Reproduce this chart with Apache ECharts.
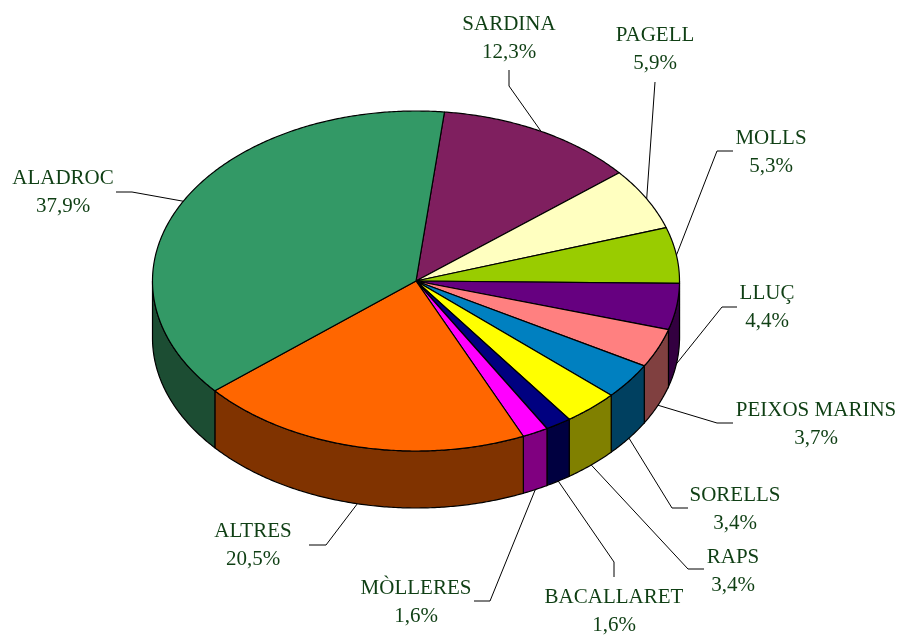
<!DOCTYPE html>
<html>
<head>
<meta charset="utf-8">
<title>Captures</title>
<script src="https://cdn.jsdelivr.net/npm/echarts@6/dist/echarts.min.js"></script>
<style>
    html, body { margin: 0; padding: 0; background: #fff; }
    #pieChart { width: 901px; height: 635px; }
</style>
</head>
<body>
<div id="pieChart"></div>
<script>
    // clockwise, starting just right of 12 o'clock
    const categories = ['SARDINA', 'PAGELL', 'MOLLS', 'LLUÇ', 'PEIXOS MARINS', 'SORELLS', 'RAPS', 'BACALLARET', 'MÒLLERES', 'ALTRES', 'ALADROC'];
    const shares = [12.3, 5.9, 5.3, 4.4, 3.7, 3.4, 3.4, 1.6, 1.6, 20.5, 37.9];

    const topColors = ['#7F1F5F', '#FFFFC0', '#99CC00', '#660080', '#FF8080', '#0080C0', '#FFFF00', '#000080', '#FF00FF', '#FF6600', '#339966'];
    const wallColors = ['#400F30', '#808060', '#4D6600', '#330040', '#804040', '#004060', '#808000', '#000040', '#800080', '#803300', '#1C4D33'];

    // label centre and the leader line points between label and pie
    const labelCenters = [[509, 38], [655, 49], [771, 152], [767, 307], [816, 424], [735, 509], [733, 571], [614, 611], [416, 602], [253, 545], [63, 192]];
    const leaderBends = [
        [[509, 70], [509, 86]],
        [[655, 82]],
        [[733, 151], [717, 151]],
        [[737, 307], [722, 307]],
        [[733, 423], [717, 423]],
        [[688, 508], [672, 508]],
        [[704, 569], [688, 569]],
        [[614, 577], [614, 562]],
        [[474, 601], [490, 601]],
        [[309, 545], [326, 545]],
        [[116, 192], [132, 192]]
    ];

    const cx = 416;
    const cy = 281;
    const rx = 263.5;
    const ry = 170;
    const depth = 57;
    const startDeg = 6.2;
    const fontFace = '"Liberation Serif", "Times New Roman", serif';
    const textColor = '#0F3F14';

    const total = shares.reduce((a, b) => a + b, 0);

    // angle is degrees clockwise from 12 o'clock
    const rimPoint = (deg, drop) => {
        const r = deg * Math.PI / 180;
        return [cx + rx * Math.sin(r), cy - ry * Math.cos(r) + (drop || 0)];
    };

    const arcPoints = (from, to, drop) => {
        const steps = Math.max(2, Math.ceil((to - from) * 2));
        const pts = [];
        for (let i = 0; i <= steps; i++) {
            pts.push(rimPoint(from + (to - from) * i / steps, drop));
        }
        return pts;
    };

    const sliceAngles = (index) => {
        const before = shares.slice(0, index).reduce((a, b) => a + b, 0);
        const from = startDeg + before / total * 360;
        return [from, from + shares[index] / total * 360];
    };

    const renderWall = (params, api) => {
        const [from, to] = sliceAngles(params.dataIndex);
        const children = [];
        // only the front half of the rim shows its wall
        const wallFrom = Math.max(from, 90);
        const wallTo = Math.min(to, 270);
        if (wallTo > wallFrom) {
            children.push({
                type: 'polygon',
                shape: { points: arcPoints(wallFrom, wallTo, 0).concat(arcPoints(wallFrom, wallTo, depth).reverse()) },
                style: { fill: wallColors[params.dataIndex], stroke: '#000', lineWidth: 1.2 }
            });
        }
        children.push({
            type: 'polygon',
            shape: { points: [[cx, cy]].concat(arcPoints(from, to, 0)) },
            style: { fill: topColors[params.dataIndex], stroke: '#000', lineWidth: 1.2, lineJoin: 'round' }
        });
        return { type: 'group', children };
    };

    const renderLabel = (params, api) => {
        const i = params.dataIndex;
        const [from, to] = sliceAngles(i);
        const mid = (from + to) / 2;
        const anchor = rimPoint(mid, mid > 90 && mid < 270 ? depth : 0);
        const center = labelCenters[i];
        const percent = api.value(0).toFixed(1).replace('.', ',') + '%';
        return {
            type: 'group',
            children: [{
                type: 'polyline',
                shape: { points: leaderBends[i].concat([anchor]) },
                style: { fill: 'none', stroke: '#000', lineWidth: 1 }
            }, {
                type: 'text',
                style: {
                    x: center[0],
                    y: center[1],
                    text: categories[i] + '\n' + percent,
                    align: 'center',
                    verticalAlign: 'middle',
                    lineHeight: 28,
                    font: '21px ' + fontFace,
                    fill: textColor
                }
            }]
        };
    };

    const chart = echarts.init(document.getElementById('pieChart'), null, { renderer: 'canvas' });
    chart.setOption({
        animation: false,
        backgroundColor: '#fff',
        series: [{
            type: 'custom',
            coordinateSystem: 'none',
            silent: true,
            data: shares,
            renderItem: renderWall,
            z: 2
        }, {
            type: 'custom',
            coordinateSystem: 'none',
            silent: true,
            data: shares,
            renderItem: renderLabel,
            z: 3
        }]
    });
</script>
</body>
</html>
